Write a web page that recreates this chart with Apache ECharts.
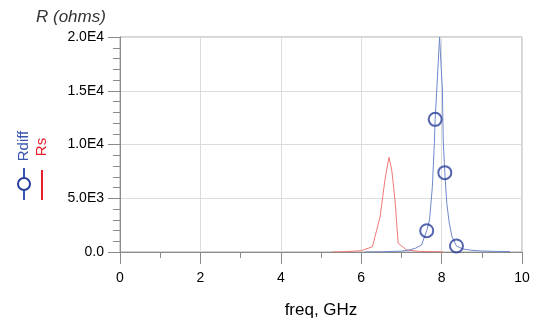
<!DOCTYPE html>
<html><head><meta charset="utf-8">
<script src="https://cdn.jsdelivr.net/npm/echarts@6/dist/echarts.min.js"></script>
<style>html,body{margin:0;padding:0;background:#fff}#c{width:533px;height:320px}</style>
</head><body><div id="c"></div>
<script>
// Rdiff (blue)
var rdiffFreq = [6.1, 6.5, 7.0, 7.2, 7.35, 7.5, 7.63, 7.7, 7.77, 7.82, 7.84, 7.88, 7.95, 7.97, 8.02, 8.04, 8.08, 8.13, 8.19, 8.26, 8.37, 8.53, 8.75, 8.96, 9.3, 9.7];
var rdiffVal  = [0, 20, 80, 190, 350, 650, 1980, 2980, 6070, 10110, 12340, 15070, 20000, 20000, 15070, 10420, 7380, 4500, 2700, 1400, 560, 280, 160, 100, 60, 40];
var rdiffMarkerIdx = [6, 10, 16, 20];
// Rs (red)
var rsFreq = [5.27, 5.6, 6.0, 6.28, 6.47, 6.59, 6.69, 6.76, 6.84, 6.92, 7.13, 7.46, 8.03];
var rsVal  = [0, 30, 120, 490, 3280, 6700, 8810, 7630, 4840, 810, 190, 50, 20];
// ticks
var xTicks = [0, 2, 4, 6, 8, 10];
var yTickLabels = {0: '0.0', 5000: '5.0E3', 10000: '1.0E4', 15000: '1.5E4', 20000: '2.0E4'};

function pairs(xs, ys) { return xs.map(function (x, i) { return [x, ys[i]]; }); }

var chart = echarts.init(document.getElementById('c'), null, {renderer: 'canvas'});
var font = 'Liberation Sans, Arial, sans-serif';
chart.setOption({
  animation: false,
  grid: {left: 120, right: 11, top: 37, bottom: 68, show: true, borderColor: '#a8a8a8', borderWidth: 1,
    containLabel: false, outerBoundsMode: 'none'},
  xAxis: {
    type: 'value', min: 0, max: 10, interval: 2,
    name: 'freq, GHz', nameLocation: 'middle', nameGap: 50,
    nameTextStyle: {fontFamily: font, fontSize: 17, color: '#000'},
    axisLine: {show: true, lineStyle: {color: '#8a8a8a', width: 1}},
    axisTick: {show: true, inside: false, length: 12, lineStyle: {color: '#8a8a8a'}},
    minorTick: {show: true, splitNumber: 2, length: 6, lineStyle: {color: '#8a8a8a'}},
    axisLabel: {fontFamily: font, fontSize: 14, color: '#000', margin: 19,
      formatter: function (v) { return xTicks.indexOf(v) >= 0 ? String(v) : ''; }},
    splitLine: {show: true, lineStyle: {color: '#dcdcdc', width: 1}}
  },
  yAxis: {
    type: 'value', min: 0, max: 20000, interval: 5000,
    axisLine: {show: true, lineStyle: {color: '#8a8a8a', width: 1}},
    axisTick: {show: true, inside: false, length: 12, lineStyle: {color: '#8a8a8a'}},
    minorTick: {show: true, splitNumber: 5, length: 7, lineStyle: {color: '#8a8a8a'}},
    axisLabel: {fontFamily: font, fontSize: 14, color: '#000', margin: 16,
      formatter: function (v) { return yTickLabels[v] !== undefined ? yTickLabels[v] : ''; }},
    splitLine: {show: true, lineStyle: {color: '#dcdcdc', width: 1}}
  },
  graphic: [
    {type: 'text', left: 36, top: 9, style: {text: 'R (ohms)', font: 'italic 17px ' + font, fill: '#333'}},
    {type: 'text', x: 24, y: 146, rotation: Math.PI / 2,
      style: {text: 'Rdiff', font: '15px ' + font, fill: '#3a55b0', textAlign: 'center', textVerticalAlign: 'middle'}},
    {type: 'line', shape: {x1: 24, y1: 168, x2: 24, y2: 200}, style: {stroke: '#3a55b0', lineWidth: 2}},
    {type: 'circle', shape: {cx: 24, cy: 184, r: 6}, style: {stroke: '#2a3f9a', lineWidth: 2, fill: '#fff'}},
    {type: 'text', x: 42, y: 147, rotation: Math.PI / 2,
      style: {text: 'Rs', font: '15px ' + font, fill: '#e8202a', textAlign: 'center', textVerticalAlign: 'middle'}},
    {type: 'line', shape: {x1: 42, y1: 170, x2: 42, y2: 200}, style: {stroke: '#e8202a', lineWidth: 2}}
  ],
  series: [
    {type: 'line', data: pairs(rsFreq, rsVal), symbol: 'none', lineStyle: {color: '#f07878', width: 1}, z: 2},
    {type: 'line', data: pairs(rdiffFreq, rdiffVal), symbol: 'none', lineStyle: {color: '#7088cc', width: 1}, z: 3},
    {type: 'scatter', data: rdiffMarkerIdx.map(function (i) { return [rdiffFreq[i], rdiffVal[i]]; }),
      symbol: 'circle', symbolSize: 13,
      itemStyle: {color: 'rgba(255,255,255,0)', borderColor: '#2a3f9a', borderWidth: 2}, z: 4}
  ]
});
</script></body></html>
